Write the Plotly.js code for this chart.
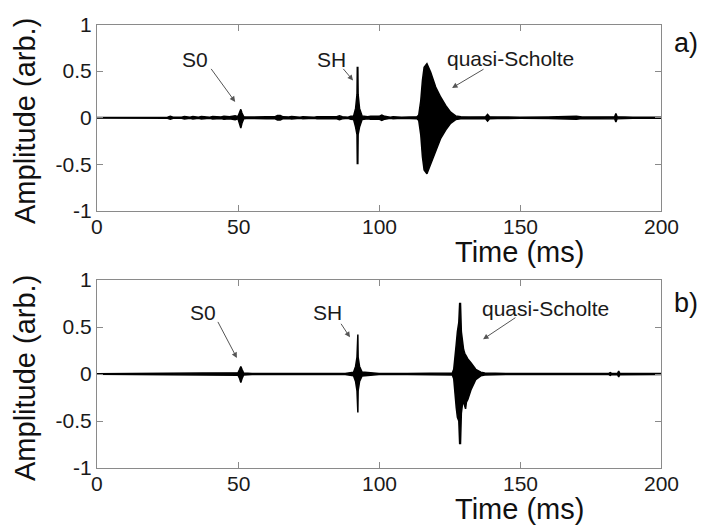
<!DOCTYPE html>
<html>
<head>
<meta charset="utf-8">
<script src="https://cdn.plot.ly/plotly-3.0.1.min.js"></script>
<style>html,body{margin:0;padding:0;background:#fff;}#chart{width:705px;height:526px;}</style>
</head>
<body>
<div id="chart"></div>
<script>
// ---- Panel a) envelope of the recorded signal (time in ms, amplitude arb.) ----
const timeA = [0, 10, 25, 26, 27, 30, 31, 33, 34, 36, 37, 40, 41, 44, 45, 47, 48, 49, 50, 50.6, 51, 51.4, 52, 53, 56, 57, 59, 60, 63, 64, 65, 66, 68, 69, 72, 73, 77, 78, 85, 86, 87, 89, 90, 91.0, 91.7, 92.2, 92.3, 92.5, 92.6, 93.1, 94, 96, 97, 100, 101, 102, 104, 105, 108, 110, 113.5, 114.1, 114.8, 115.4, 116, 117, 118.3, 120.1, 121.9, 123.7, 125.4, 127.2, 129, 132, 137.8, 138.5, 139.2, 142, 145, 150, 160, 168, 170, 172, 180, 183.6, 184, 184.4, 190, 200];
const upperA = [0.003, 0.004, 0.006, 0.015, 0.006, 0.006, 0.013, 0.006, 0.014, 0.006, 0.014, 0.006, 0.013, 0.008, 0.015, 0.01, 0.018, 0.02, 0.012, 0.05, 0.09, 0.05, 0.012, 0.008, 0.006, 0.012, 0.006, 0.01, 0.01, 0.025, 0.025, 0.01, 0.008, 0.014, 0.006, 0.012, 0.006, 0.01, 0.01, 0.02, 0.012, 0.006, 0.015, 0.02, 0.1, 0.25, 0.54, 0.54, 0.25, 0.1, 0.02, 0.01, 0.015, 0.015, 0.028, 0.015, 0.006, 0.01, 0.006, 0.008, 0.01, 0.03, 0.18, 0.40, 0.54, 0.58, 0.49, 0.33, 0.22, 0.13, 0.06, 0.02, 0.01, 0.008, 0.01, 0.035, 0.01, 0.008, 0.01, 0.006, 0.008, 0.01, 0.016, 0.008, 0.006, 0.012, 0.045, 0.012, 0.006, 0.005];
const lowerA = [-0.003, -0.004, -0.006, -0.015, -0.006, -0.006, -0.013, -0.006, -0.014, -0.006, -0.014, -0.006, -0.013, -0.008, -0.015, -0.01, -0.018, -0.02, -0.012, -0.06, -0.11, -0.06, -0.012, -0.008, -0.006, -0.012, -0.006, -0.01, -0.01, -0.025, -0.025, -0.01, -0.008, -0.014, -0.006, -0.012, -0.006, -0.01, -0.01, -0.02, -0.012, -0.006, -0.015, -0.02, -0.1, -0.18, -0.49, -0.49, -0.18, -0.1, -0.02, -0.01, -0.015, -0.015, -0.028, -0.015, -0.006, -0.01, -0.006, -0.008, -0.01, -0.03, -0.18, -0.42, -0.56, -0.60, -0.50, -0.34, -0.22, -0.13, -0.06, -0.02, -0.01, -0.008, -0.01, -0.035, -0.01, -0.008, -0.01, -0.006, -0.008, -0.01, -0.016, -0.008, -0.006, -0.012, -0.045, -0.012, -0.006, -0.005];

// ---- Panel b) ----
const timeB = [0, 10, 25, 30, 33, 36, 40, 45, 49, 50, 50.6, 51, 51.4, 52, 55, 60, 70, 80, 88, 91.0, 91.7, 92.2, 92.3, 92.5, 92.6, 93.1, 94, 100, 110, 120, 126, 126.5, 127.0, 127.4, 127.8, 128.3, 128.6, 128.9, 129.2, 129.6, 130.0, 130.4, 130.7, 131.0, 131.5, 132.6, 134.3, 136.1, 137.5, 145, 160, 175, 181.5, 182, 182.5, 184.6, 185, 185.4, 190, 200];
const upperB = [0.003, 0.004, 0.008, 0.01, 0.008, 0.01, 0.008, 0.01, 0.008, 0.012, 0.05, 0.08, 0.05, 0.01, 0.006, 0.007, 0.006, 0.007, 0.006, 0.02, 0.08, 0.18, 0.42, 0.42, 0.18, 0.08, 0.02, 0.006, 0.006, 0.006, 0.01, 0.05, 0.25, 0.32, 0.45, 0.55, 0.75, 0.75, 0.45, 0.32, 0.26, 0.22, 0.2, 0.18, 0.16, 0.12, 0.05, 0.02, 0.01, 0.006, 0.006, 0.006, 0.006, 0.014, 0.006, 0.008, 0.03, 0.008, 0.006, 0.005];
const lowerB = [-0.003, -0.004, -0.008, -0.01, -0.008, -0.01, -0.008, -0.01, -0.008, -0.012, -0.05, -0.09, -0.05, -0.01, -0.006, -0.007, -0.006, -0.007, -0.006, -0.02, -0.08, -0.18, -0.41, -0.41, -0.18, -0.08, -0.02, -0.006, -0.006, -0.006, -0.01, -0.05, -0.28, -0.36, -0.46, -0.5, -0.74, -0.74, -0.42, -0.32, -0.3, -0.33, -0.37, -0.3, -0.27, -0.17, -0.06, -0.02, -0.01, -0.006, -0.006, -0.006, -0.006, -0.014, -0.006, -0.008, -0.03, -0.008, -0.006, -0.005];

// ---- Axis ticks ----
const xTicks = [0, 50, 100, 150, 200];
const yTicks = [-1, -0.5, 0, 0.5, 1];
const yTickText = ['-1', '-0.5', '0', '0.5', '1'];

// ---- Wave labels: [label, textX, textY, arrowTailX, arrowTailY, headX, headY] ----
const labelsA = [
  ['S0', 34.8, 0.62, 40.1, 0.54, 49.0, 0.17],
  ['SH', 83.3, 0.62, 86.9, 0.54, 90.8, 0.40],
  ['quasi-Scholte', 146.8, 0.64, 137.6, 0.53, 125.9, 0.32]
];
const labelsB = [
  ['S0', 37.6, 0.65, 42.6, 0.57, 49.6, 0.17],
  ['SH', 81.9, 0.65, 86.2, 0.55, 89.7, 0.39],
  ['quasi-Scholte', 158.9, 0.70, 148.9, 0.61, 136.9, 0.37]
];

const FONT = 'Liberation Sans, Arial, Helvetica, sans-serif';
const W = 705, H = 526;

function envTraces(t, lo, up, xa, ya) {
  return [
    {x: t, y: lo, xaxis: xa, yaxis: ya, type: 'scatter', mode: 'lines',
     line: {color: '#000', width: 1.5}, hoverinfo: 'skip', showlegend: false},
    {x: t, y: up, xaxis: xa, yaxis: ya, type: 'scatter', mode: 'lines',
     line: {color: '#000', width: 1.5}, fill: 'tonexty', fillcolor: '#000',
     hoverinfo: 'skip', showlegend: false}
  ];
}

const data = [].concat(
  envTraces(timeA, lowerA, upperA, 'x', 'y'),
  envTraces(timeB, lowerB, upperB, 'x2', 'y2')
);

function xAxis(anchor) {
  return {
    domain: [97 / W, 661 / W], anchor: anchor, range: [0, 200],
    tickvals: xTicks, showticklabels: false,
    ticks: 'inside', ticklen: 6, tickcolor: '#8a8a8a', tickwidth: 1,
    showline: true, linecolor: '#8a8a8a', linewidth: 1, mirror: 'ticks',
    showgrid: false, zeroline: false
  };
}
function yAxis(domain, anchor) {
  return {
    domain: domain, anchor: anchor, range: [-1, 1],
    tickvals: yTicks, ticktext: yTickText,
    ticks: 'inside', ticklen: 6, tickcolor: '#8a8a8a', tickwidth: 1,
    showline: true, linecolor: '#8a8a8a', linewidth: 1, mirror: 'ticks',
    showgrid: false, zeroline: false,
    tickfont: {family: FONT, size: 21, color: '#1a1a1a'}
  };
}

const annotations = [];
// x tick labels placed at the axis' tick values, just under the frame
function addXTickLabels(xr, yr) {
  xTicks.forEach(function (v) {
    annotations.push({x: v, y: -1, xref: xr, yref: yr, text: String(v), showarrow: false,
      xanchor: 'center', yanchor: 'middle', yshift: -15,
      font: {family: FONT, size: 21, color: '#1a1a1a'}});
  });
}
addXTickLabels('x', 'y');
addXTickLabels('x2', 'y2');

function addLabels(list, xr, yr) {
  list.forEach(function (l) {
    annotations.push({x: l[1], y: l[2], xref: xr, yref: yr, text: l[0], showarrow: false,
      font: {family: FONT, size: 21, color: '#1a1a1a'}, xanchor: 'center', yanchor: 'middle'});
    annotations.push({x: l[5], y: l[6], ax: l[3], ay: l[4], xref: xr, yref: yr, axref: xr, ayref: yr,
      text: '', showarrow: true, arrowhead: 2, arrowsize: 1.1, arrowwidth: 1, arrowcolor: '#555'});
  });
}
addLabels(labelsA, 'x', 'y');
addLabels(labelsB, 'x2', 'y2');

function paperText(txt, px, py, size, angle) {
  annotations.push({x: px / W, y: 1 - py / H, xref: 'paper', yref: 'paper', text: txt,
    showarrow: false, textangle: angle || 0, xanchor: 'center', yanchor: 'middle',
    font: {family: FONT, size: size, color: '#111'}});
}
paperText('Time (ms)', 519, 252, 29);
paperText('Time (ms)', 519, 509, 29);
paperText('Amplitude (arb.)', 25, 121, 29, -90);
paperText('Amplitude (arb.)', 25, 378, 29, -90);
paperText('a)', 686, 43, 27);
paperText('b)', 686, 303, 27);

const layout = {
  width: W, height: H,
  margin: {l: 0, r: 0, t: 0, b: 0},
  paper_bgcolor: '#fff', plot_bgcolor: '#fff',
  showlegend: false,
  xaxis: xAxis('y'),
  yaxis: yAxis([1 - 211 / H, 1 - 24.5 / H], 'x'),
  xaxis2: xAxis('y2'),
  yaxis2: yAxis([1 - 468 / H, 1 - 280 / H], 'x2'),
  annotations: annotations
};

Plotly.newPlot('chart', data, layout, {displayModeBar: false, staticPlot: true});
</script>
</body>
</html>
